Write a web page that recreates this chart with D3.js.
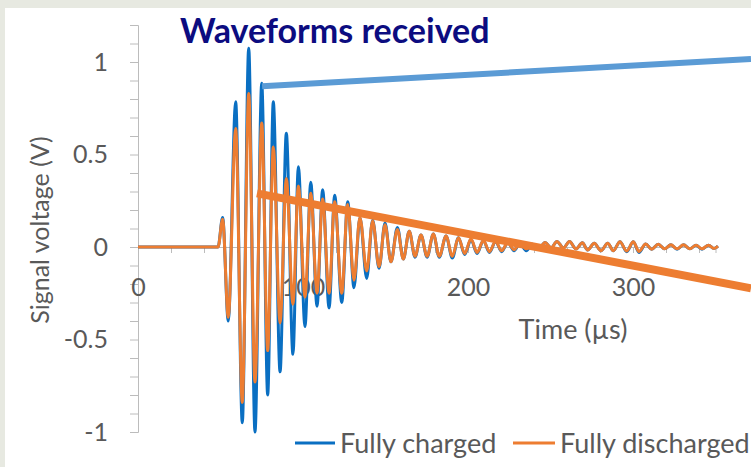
<!DOCTYPE html>
<html>
<head>
<meta charset="utf-8">
<script src="https://cdn.jsdelivr.net/npm/d3@7"></script>
<style>
  html, body { margin: 0; padding: 0; background: #ffffff; }
  svg { display: block; }
</style>
</head>
<body>
<svg id="chart" width="751" height="467"></svg>
<script>
// ---- Data ----
// Times (µs) of the waveform turning points (shared by both series)
const times = [0, 48.5, 51.3, 54.7, 59.2, 63.2, 67.1, 70.9, 75.0, 78.6, 82.0, 86.1, 89.9, 93.9, 97.2,
  101.2, 104.7, 108.5, 111.9, 115.8, 119.2, 123.5, 127.1, 130.9, 134.5, 138.6, 142.2, 146.1, 149.7,
  153.3, 157.2, 160.8, 164.4, 167.9, 171.5, 175.2, 179.0, 182.6, 186.7, 190.5, 194.2, 198.0, 201.8,
  205.5, 209.3, 213.0, 216.7, 220.4, 224.2, 227.9, 231.5, 235.3, 239.1, 242.8, 246.7, 250.3, 253.9,
  257.8, 261.5, 265.5, 269.3, 272.5, 276.5, 280.6, 284.7, 288.1, 292.1, 296.2, 300.2, 303.6, 307.7,
  311.3, 315.3, 319.1, 323.0, 326.7, 330.6, 334.5, 338.2, 341.8, 345.8, 349.1, 351.5];

// Signal voltage (V), fully charged
const chargedValues = [0, 0, 0.16, -0.40, 0.785, -0.95, 1.075, -1.0, 0.885, -0.80, 0.785, -0.675, 0.615, -0.58, 0.434,
  -0.43, 0.35, -0.32, 0.31, -0.33, 0.28, -0.30, 0.245, -0.22, 0.16, -0.17, 0.146, -0.115, 0.13,
  -0.08, 0.106, -0.065, 0.085, -0.055, 0.065, -0.055, 0.07, -0.055, 0.06, -0.06, 0.05, -0.04, 0.04,
  -0.035, 0.035, -0.03, 0.03, -0.025, 0.025, -0.02, 0.02, -0.02, 0.015, -0.01, 0.025, -0.005, 0.03,
  -0.005, 0.03, -0.01, 0.023, -0.016, 0.02, -0.02, 0.02, -0.02, 0.029, -0.025, 0.029, -0.03, 0.016,
  -0.012, 0.015, -0.01, 0.012, -0.012, 0.012, -0.01, 0.01, -0.012, 0.01, -0.008, 0.005];

// Signal voltage (V), fully discharged
const dischargedValues = [0, 0, 0.15, -0.38, 0.64, -0.84, 0.83, -0.73, 0.67, -0.56, 0.54, -0.41, 0.37, -0.31, 0.33,
  -0.27, 0.29, -0.25, 0.26, -0.25, 0.245, -0.25, 0.23, -0.18, 0.16, -0.13, 0.14, -0.106, 0.12,
  -0.08, 0.095, -0.065, 0.085, -0.05, 0.065, -0.05, 0.07, -0.05, 0.06, -0.05, 0.05, -0.035, 0.045,
  -0.03, 0.035, -0.025, 0.03, -0.02, 0.025, -0.015, 0.02, -0.01, 0.015, -0.01, 0.025, -0.005, 0.03,
  -0.005, 0.03, -0.01, 0.023, -0.016, 0.02, -0.02, 0.02, -0.02, 0.029, -0.022, 0.028, -0.024, 0.016,
  -0.012, 0.015, -0.01, 0.012, -0.01, 0.012, -0.01, 0.01, -0.01, 0.01, -0.008, 0.005];

const seriesNames = ["Fully charged", "Fully discharged"];
const seriesColors = ["#0a6fc2", "#ed7d31"];

// Axis ticks
const yMajorTicks = [-1, -0.5, 0, 0.5, 1];
const yMinorTicks = [-1, -0.9, -0.8, -0.7, -0.6, -0.5, -0.4, -0.3, -0.2, -0.1, 0, 0.1, 0.2, 0.3, 0.4, 0.5, 0.6, 0.7, 0.8, 0.9, 1, 1.1, 1.2];
const xMajorTicks = [0, 100, 200, 300];
const xMinorTicks = [0, 20, 40, 60, 80, 100, 120, 140, 160, 180, 200, 220, 240, 260, 280, 300, 320, 340];

// Annotation trend lines (in data units: [time, voltage])
const blueTrend = [[75.2, 0.869], [371.5, 1.016]];
const orangeTrend = [[72.1, 0.290], [371.5, -0.223]];

const titleText = "Waveforms received";
const xTitle = "Time (µs)";
const yTitle = "Signal voltage (V)";

// ---- Drawing ----
const svg = d3.select("#chart");
const W = 751, H = 467;
const FONT = "Lato, 'Open Sans', sans-serif";

// slide background band
svg.append("rect").attr("x", 0).attr("y", 0).attr("width", W).attr("height", H).attr("fill", "#ffffff");
svg.append("rect").attr("x", 0).attr("y", 0).attr("width", W).attr("height", 8).attr("fill", "#e7e9e1");
svg.append("rect").attr("x", 0).attr("y", 0).attr("width", 5).attr("height", H).attr("fill", "#e7e9e1");

const x = d3.scaleLinear().domain([0, 350]).range([138, 715.5]);
const y = d3.scaleLinear().domain([-1, 1.2]).range([432, 25]);

const axisColor = "#bcbcbc";
const textColor = "#595959";

// Y axis (minor ticks, then labels for majors)
const yAxis = svg.append("g").attr("transform", `translate(${x(0)},0)`)
  .call(d3.axisLeft(y).tickValues(yMinorTicks).tickSize(8).tickFormat(""));
yAxis.select(".domain").attr("stroke", axisColor).attr("stroke-width", 1);
yAxis.selectAll(".tick line").attr("stroke", axisColor);

const yLab = svg.append("g").attr("transform", `translate(${x(0)},0)`)
  .call(d3.axisLeft(y).tickValues(yMajorTicks).tickSize(0).tickPadding(30).tickFormat(d => String(d)));
yLab.select(".domain").remove();
yLab.selectAll("text").attr("fill", textColor).style("font-family", FONT).style("font-size", "25px");

// X axis at zero
const xAxis = svg.append("g").attr("transform", `translate(0,${y(0)})`)
  .call(d3.axisBottom(x).tickValues(xMinorTicks).tickSize(6).tickFormat(""));
xAxis.select(".domain").attr("stroke", axisColor).attr("stroke-width", 1);
xAxis.selectAll(".tick line").attr("stroke", axisColor);

const xLab = svg.append("g").attr("transform", `translate(0,${y(0)})`)
  .call(d3.axisBottom(x).tickValues(xMajorTicks).tickSize(0).tickPadding(31).tickFormat(d => String(d)));
xLab.select(".domain").remove();
xLab.selectAll("text").attr("fill", textColor).style("font-family", FONT).style("font-size", "25px");

// Series
const series = [chargedValues, dischargedValues];
const line = d3.line()
  .x(d => x(d[0]))
  .y(d => y(d[1]))
  .curve(d3.curveMonotoneX);

series.forEach((vals, i) => {
  const pts = times.map((t, k) => [t, vals[k]]);
  svg.append("path")
    .datum(pts)
    .attr("fill", "none")
    .attr("stroke", seriesColors[i])
    .attr("stroke-width", 3)
    .attr("stroke-linejoin", "round")
    .attr("d", line);
});

// Annotation lines
const trendLine = d3.line().x(d => x(d[0])).y(d => y(d[1]));
svg.append("path").datum(blueTrend).attr("d", trendLine)
  .attr("stroke", "#5b9bd5").attr("stroke-width", 6).attr("fill", "none");
svg.append("path").datum(orangeTrend).attr("d", trendLine)
  .attr("stroke", "#ed7d31").attr("stroke-width", 8).attr("fill", "none");

// Titles
svg.append("text").attr("x", 180).attr("y", 43)
  .text(titleText)
  .attr("fill", "#0c0c80").style("font-family", FONT).style("font-weight", "bold").style("font-size", "34px");

svg.append("text").attr("x", 573).attr("y", 339).attr("text-anchor", "middle")
  .text(xTitle).attr("fill", textColor).style("font-family", FONT).style("font-size", "27px");

svg.append("text").attr("transform", "translate(49,230) rotate(-90)").attr("text-anchor", "middle")
  .text(yTitle).attr("fill", textColor).style("font-family", FONT).style("font-size", "25px");

// Legend
const legendItems = [{ x1: 295, x2: 335, tx: 340 }, { x1: 513, x2: 555, tx: 560 }];
legendItems.forEach((it, i) => {
  svg.append("line").attr("x1", it.x1).attr("x2", it.x2).attr("y1", 443).attr("y2", 443)
    .attr("stroke", seriesColors[i]).attr("stroke-width", 3);
  svg.append("text").attr("x", it.tx).attr("y", 453).text(seriesNames[i])
    .attr("fill", textColor).style("font-family", FONT).style("font-size", "27px");
});
</script>
</body>
</html>
